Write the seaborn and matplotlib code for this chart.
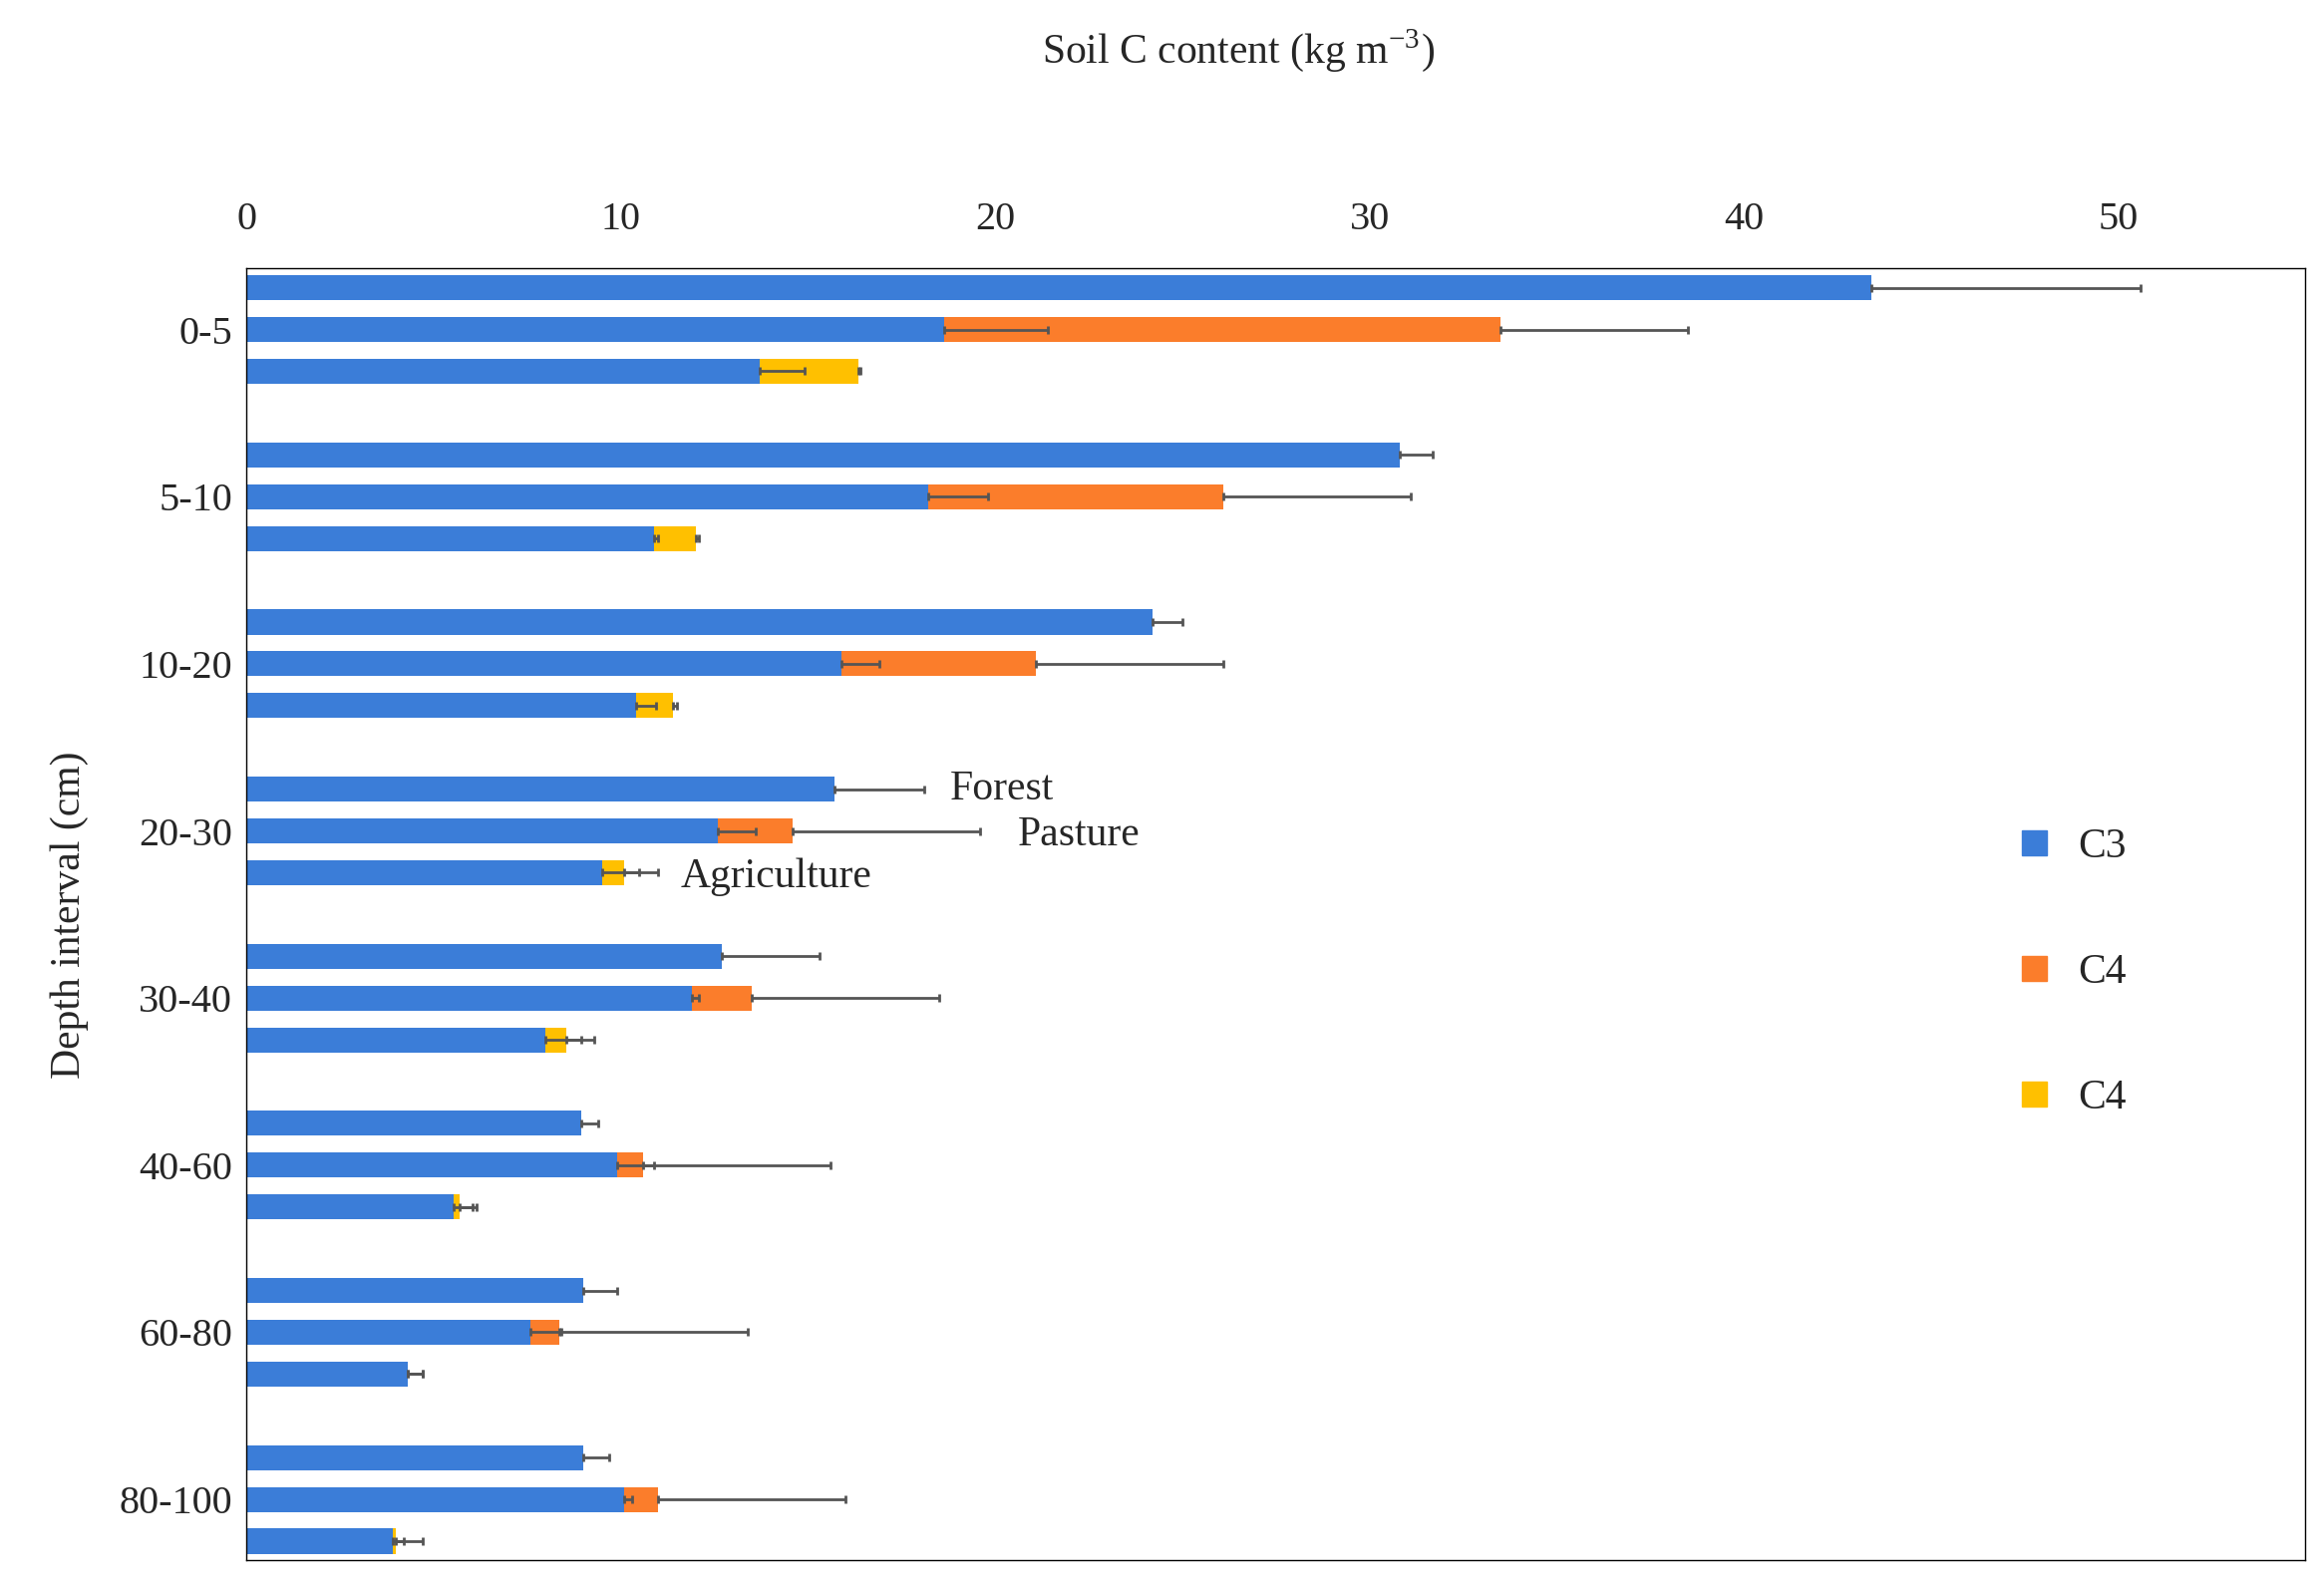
import matplotlib
matplotlib.use("Agg")
import matplotlib.pyplot as plt
import seaborn as sns
import pandas as pd
from matplotlib.lines import Line2D

depths = ["0-5", "5-10", "10-20", "20-30", "30-40", "40-60", "60-80", "80-100"]
# Forest
forest_c3 = [43.4, 30.8, 24.2, 15.7, 12.7, 8.95, 9.0, 9.0]
forest_err = [50.6, 31.7, 25.0, 18.1, 15.3, 9.4, 9.9, 9.7]
# Pasture
pasture_c3 = [18.65, 18.2, 15.9, 12.6, 11.9, 9.9, 7.6, 10.1]
pasture_tot = [33.5, 26.1, 21.1, 14.6, 13.5, 10.6, 8.35, 11.0]
pasture_c3_err = [21.4, 19.8, 16.9, 13.6, 12.1, 10.9, 8.4, 10.3]
pasture_tot_err = [38.5, 31.1, 26.1, 19.6, 18.5, 15.6, 13.4, 16.0]
# Agriculture
agri_c3 = [13.7, 10.9, 10.4, 9.5, 8.0, 5.55, 4.3, 3.9]
agri_tot = [16.35, 12.0, 11.4, 10.1, 8.55, 5.7, 4.3, 3.98]
agri_c3_err = [14.9, 11.0, 10.95, 10.5, 8.95, 6.05, 4.7, 4.2]
agri_tot_err = [16.4, 12.1, 11.5, 11.0, 9.3, 6.15, 4.7, 4.7]

BLUE, ORANGE, YELLOW, ERR = "#3B7DD8", "#FB7D2B", "#FFC000", "#555555"

sns.set_style("white")
plt.rcParams["font.family"] = ["Liberation Serif", "DejaVu Serif"]
plt.rcParams["mathtext.fontset"] = "stix"

rows = []
for g in range(len(depths)):
    rows.append(dict(pos=g * 4 + 0, c3=forest_c3[g], tot=forest_c3[g], c4c=BLUE,
                     e1=float("nan"), e2=forest_err[g]))
    rows.append(dict(pos=g * 4 + 1, c3=pasture_c3[g], tot=pasture_tot[g], c4c=ORANGE,
                     e1=pasture_c3_err[g], e2=pasture_tot_err[g]))
    rows.append(dict(pos=g * 4 + 2, c3=agri_c3[g], tot=agri_tot[g], c4c=YELLOW,
                     e1=agri_c3_err[g], e2=agri_tot_err[g]))
df = pd.DataFrame(rows)

fig = plt.figure(figsize=(23.31, 15.94), dpi=100)
ax = fig.add_axes([0.106, 0.018, 0.886, 0.813])

# subsets have spacing 4 -> width 0.15 gives 0.6 data units
for col in [ORANGE, YELLOW]:
    sub = df[df.c4c == col]
    sns.barplot(data=sub, x="tot", y="pos", orient="h", native_scale=True,
                color=col, width=0.15, saturation=1, ax=ax, errorbar=None, linewidth=0)
sns.barplot(data=df, x="c3", y="pos", orient="h", native_scale=True,
            color=BLUE, width=0.6, saturation=1, ax=ax, errorbar=None, linewidth=0)

for _, r in df.iterrows():
    if not pd.isna(r.e1) and r.e1 > r.c3:
        ax.errorbar(r.c3, r.pos, xerr=[[0], [r.e1 - r.c3]], fmt="none",
                    ecolor=ERR, elinewidth=2, capsize=3, capthick=2)
    if r.e2 > r.tot:
        ax.errorbar(r.tot, r.pos, xerr=[[0], [r.e2 - r.tot]], fmt="none",
                    ecolor=ERR, elinewidth=2, capsize=3, capthick=2)

ax.set_xlim(0, 55)
ax.set_ylim(30.46, -0.46)
ax.set_xticks([0, 10, 20, 30, 40, 50])
ax.xaxis.tick_top()
ax.set_yticks([g * 4 + 1 for g in range(len(depths))])
ax.set_yticklabels(depths)
ax.tick_params(axis="both", length=0, labelsize=29, pad=10)
ax.tick_params(axis="x", pad=22)
ax.set_xlabel("")
ax.set_ylabel("Depth interval (cm)", fontsize=30, labelpad=22)
for s in ax.spines.values():
    s.set_visible(True)
    s.set_color("black")
    s.set_linewidth(1)

fig.text(0.533, 0.968, "Soil C content (kg m$^{\\mathregular{-3}}$)", ha="center",
         va="center", fontsize=30)

ax.text(18.8, 12.0, "Forest", fontsize=30, va="center")
ax.text(20.6, 13.1, "Pasture", fontsize=30, va="center")
ax.text(11.6, 14.1, "Agriculture", fontsize=30, va="center")

handles = [Line2D([], [], marker="s", ls="none", color=c, markersize=18)
           for c in [BLUE, ORANGE, YELLOW]]
ax.legend(handles, ["C3", "C4", "C4"], loc="center left", bbox_to_anchor=(0.83, 0.455),
          frameon=False, fontsize=30, labelspacing=2.1, handletextpad=0.05)

fig.savefig("out.png", dpi=100)
